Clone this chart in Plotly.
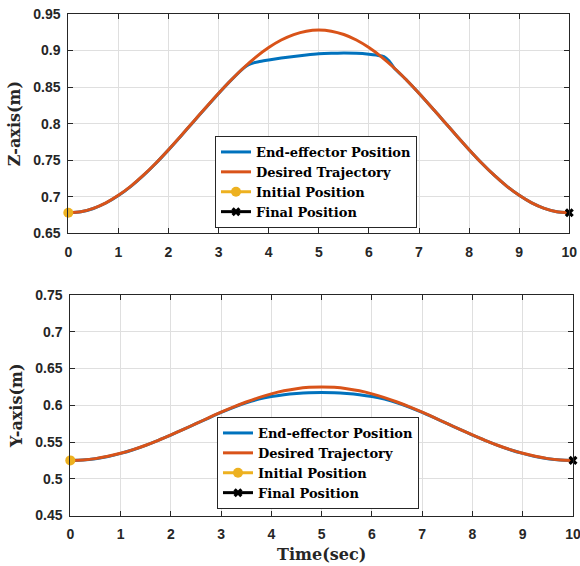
import plotly.graph_objects as go

# ---------------- data ----------------
t_des = [0, 0.25, 0.5, 0.75, 1, 1.25, 1.5, 1.75, 2, 2.25, 2.5, 2.75, 3, 3.25, 3.5, 3.75, 4, 4.25, 4.5, 4.75,
         5, 5.25, 5.5, 5.75, 6, 6.25, 6.5, 6.75, 7, 7.25, 7.5, 7.75, 8, 8.25, 8.5, 8.75, 9, 9.25, 9.5, 9.75, 10]
z_des = [0.678, 0.6795, 0.6841, 0.6916, 0.7019, 0.7146, 0.7295, 0.7462, 0.7644, 0.7835, 0.803,
         0.8225, 0.8416, 0.8598, 0.8765, 0.8914, 0.9041, 0.9144, 0.9219, 0.9265, 0.928,
         0.9265, 0.9219, 0.9144, 0.9041, 0.8914, 0.8765, 0.8598, 0.8416, 0.8225, 0.803,
         0.7835, 0.7644, 0.7462, 0.7295, 0.7146, 0.7019, 0.6916, 0.6841, 0.6795, 0.678]
y_des = [0.525, 0.5256, 0.5274, 0.5305, 0.5346, 0.5396, 0.5456, 0.5523, 0.5596, 0.5672, 0.575,
         0.5828, 0.5905, 0.5977, 0.6044, 0.6104, 0.6155, 0.6196, 0.6226, 0.6244, 0.625,
         0.6244, 0.6226, 0.6196, 0.6155, 0.6104, 0.6044, 0.5977, 0.5905, 0.5828, 0.575,
         0.5672, 0.5596, 0.5523, 0.5456, 0.5396, 0.5346, 0.5305, 0.5274, 0.5256, 0.525]

t_ee_z = [0, 0.25, 0.5, 0.75, 1, 1.25, 1.5, 1.75, 2, 2.25, 2.5, 2.75, 3, 3.25, 3.5, 3.6, 3.7, 3.8, 4,
          4.25, 4.5, 4.75, 5, 5.25, 5.5, 5.75, 6, 6.15, 6.3, 6.4, 6.5, 6.75, 7, 7.25, 7.5, 7.75, 8,
          8.25, 8.5, 8.75, 9, 9.25, 9.5, 9.75, 10]
z_ee = [0.678, 0.6794, 0.6839, 0.6914, 0.7016, 0.7143, 0.7292, 0.7459, 0.7641, 0.7832, 0.8027,
        0.8222, 0.8413, 0.8595, 0.8760, 0.8808, 0.8832, 0.8848, 0.8870, 0.8897, 0.8920, 0.8940,
        0.8955, 0.8962, 0.8965, 0.8962, 0.8950, 0.8938, 0.8918, 0.8860, 0.8765, 0.8598, 0.8416,
        0.8225, 0.803, 0.7835, 0.7644, 0.7462, 0.7295, 0.7146, 0.7019, 0.6916, 0.6841, 0.6795, 0.678]

t_ee_y = t_des
y_ee = [0.525, 0.5255, 0.5273, 0.5304, 0.5345, 0.5395, 0.5455, 0.5522, 0.5595, 0.5671, 0.5749,
        0.5826, 0.5902, 0.5972, 0.6034, 0.6083, 0.6118, 0.6143, 0.6160, 0.6171, 0.6175,
        0.6171, 0.6160, 0.6143, 0.6118, 0.6083, 0.6034, 0.5972, 0.5903, 0.5827, 0.5749,
        0.5671, 0.5595, 0.5522, 0.5455, 0.5395, 0.5345, 0.5304, 0.5273, 0.5255, 0.525]

t_init, t_final = [0], [10]
z_init, z_final = [0.678], [0.678]
y_init, y_final = [0.525], [0.525]

x_ticks = list(range(0, 11))
z_ticks = [0.65, 0.7, 0.75, 0.8, 0.85, 0.9, 0.95]
y_ticks = [0.45, 0.5, 0.55, 0.6, 0.65, 0.7, 0.75]

names = ["End-effector Position", "Desired Trajectory", "Initial Position", "Final Position"]

# ---------------- styles ----------------
BLUE, ORANGE, YELLOW, BLACK = "#0072BD", "#D95319", "#EDB120", "#000000"
W, H = 580, 566

fig = go.Figure()


def add_panel(xa, ya, leg, t_ee, v_ee, v_des, v_init, v_final):
    fig.add_trace(go.Scatter(x=t_ee, y=v_ee, mode="lines", name=names[0],
                             line=dict(color=BLUE, width=3, shape="spline", smoothing=0.5),
                             xaxis=xa, yaxis=ya, legend=leg))
    fig.add_trace(go.Scatter(x=t_des, y=v_des, mode="lines", name=names[1],
                             line=dict(color=ORANGE, width=3, shape="spline", smoothing=0.8),
                             xaxis=xa, yaxis=ya, legend=leg))
    fig.add_trace(go.Scatter(x=t_init, y=v_init, mode="lines+markers", name=names[2],
                             line=dict(color=YELLOW, width=3),
                             marker=dict(color=YELLOW, size=10, symbol="circle"),
                             xaxis=xa, yaxis=ya, legend=leg, cliponaxis=False))
    fig.add_trace(go.Scatter(x=t_final, y=v_final, mode="lines+markers", name=names[3],
                             line=dict(color=BLACK, width=3),
                             marker=dict(color=BLACK, size=8, symbol="x"),
                             xaxis=xa, yaxis=ya, legend=leg, cliponaxis=False))


add_panel("x", "y", "legend", t_ee_z, z_ee, z_des, z_init, z_final)
add_panel("x2", "y2", "legend2", t_ee_y, y_ee, y_des, y_init, y_final)

tickfont = dict(family="Liberation Sans", size=14, color="#262626", weight="bold")
titlefont = dict(family="DejaVu Serif", size=16, color="#262626", weight="bold")
legfont = dict(family="DejaVu Serif", size=13, color="black", weight="bold")
axis_common = dict(showline=True, linecolor="#262626", linewidth=1, mirror="ticks",
                   ticks="inside", ticklen=5, tickcolor="#262626", tickwidth=1,
                   showgrid=True, gridcolor="#DFDFDF", gridwidth=1, zeroline=False,
                   tickfont=tickfont, automargin=False, ticklabeloverflow="allow")


def px_x(p):
    return p / W


def px_y(p):
    return 1 - p / H


fig.update_layout(
    width=W, height=H, margin=dict(l=0, r=0, t=0, b=0, pad=0),
    paper_bgcolor="white", plot_bgcolor="white", showlegend=True,
    xaxis=dict(domain=[px_x(68.3), px_x(569.3)], anchor="y", range=[0, 10],
               tickvals=x_ticks, ticklabelstandoff=6, **axis_common),
    yaxis=dict(domain=[px_y(233.3), px_y(14)], anchor="x", range=[0.65, 0.95],
               tickvals=z_ticks, ticktext=[f"{v:g}" for v in z_ticks], ticklabelstandoff=4,
               title=dict(text="Z-axis(m)", font=titlefont, standoff=8), **axis_common),
    xaxis2=dict(domain=[px_x(70.3), px_x(573)], anchor="y2", range=[0, 10],
                tickvals=x_ticks, ticklabelstandoff=6,
                title=dict(text="Time(sec)", font=titlefont, standoff=7), **axis_common),
    yaxis2=dict(domain=[px_y(515.5), px_y(295)], anchor="x2", range=[0.45, 0.75],
                tickvals=y_ticks, ticktext=[f"{v:g}" for v in y_ticks], ticklabelstandoff=4,
                title=dict(text="Y-axis(m)", font=titlefont, standoff=8), **axis_common),
    legend=dict(x=px_x(215), y=px_y(136), xanchor="left", yanchor="top",
                bgcolor="white", bordercolor="#262626", borderwidth=1,
                font=legfont, tracegroupgap=0, itemwidth=30),
    legend2=dict(x=px_x(217), y=px_y(417), xanchor="left", yanchor="top",
                 bgcolor="white", bordercolor="#262626", borderwidth=1,
                 font=legfont, tracegroupgap=0, itemwidth=30),
)

# remove the browser's default 8px body margin so the figure fills the window
fig.write_html("out.html", config={"displayModeBar": False},
               post_script="document.body.style.margin='0';document.body.style.overflow='hidden';")
